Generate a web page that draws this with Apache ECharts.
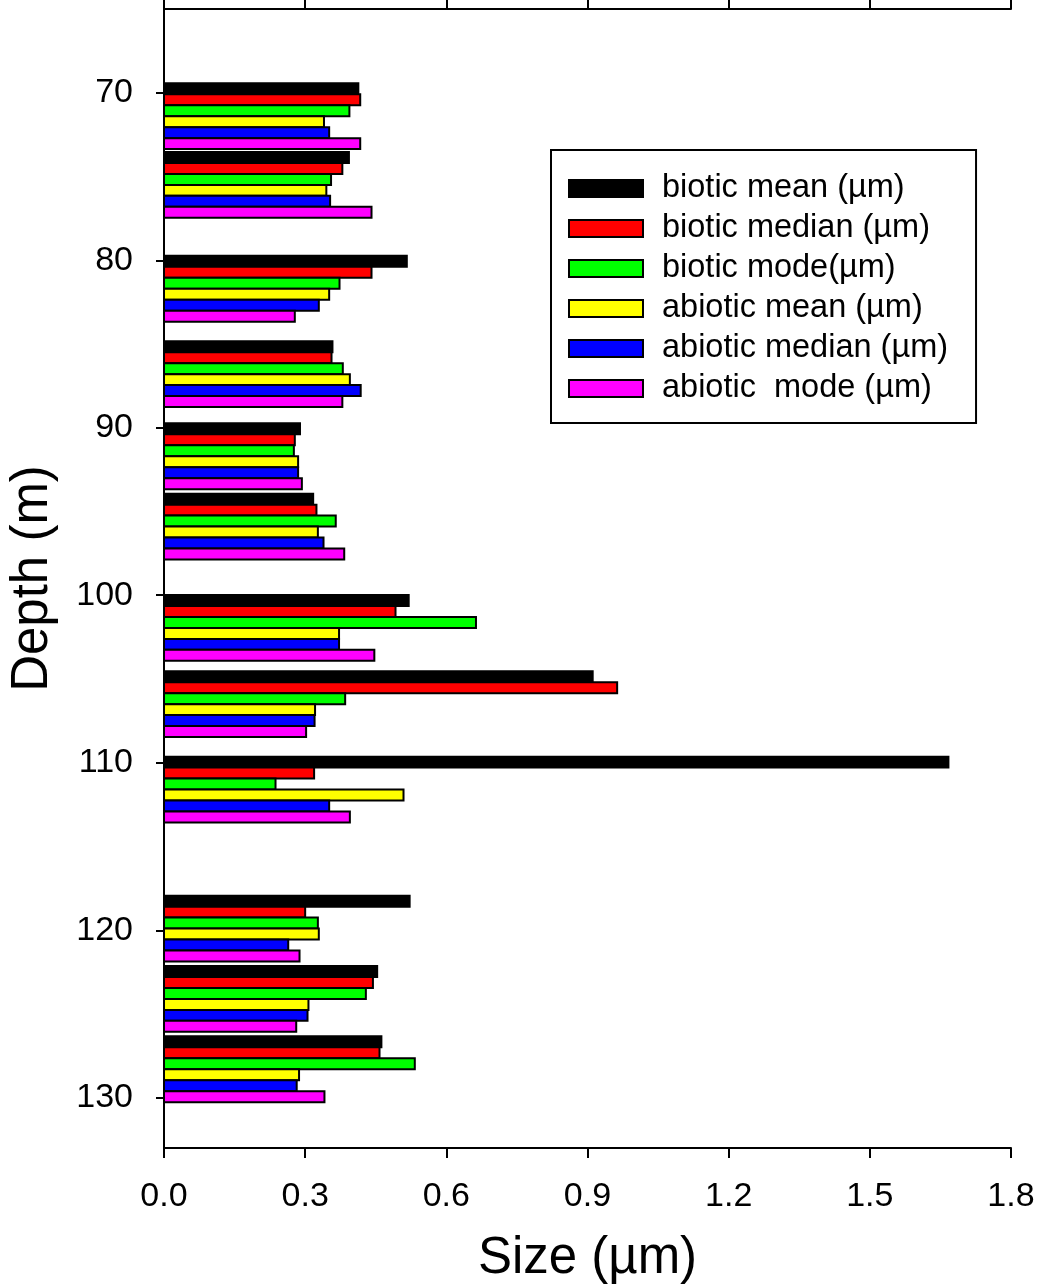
<!DOCTYPE html>
<html>
<head>
<meta charset="utf-8">
<script src="https://cdn.jsdelivr.net/npm/echarts@6/dist/echarts.min.js"></script>
<style>
  html, body { margin: 0; padding: 0; background: #fff; }
  #chart { width: 1038px; height: 1286px; }
</style>
</head>
<body>
<div id="chart"></div>
<script>
// Sample depths (m), centre of each group of six bars
const depths = [71.4, 75.5, 81.7, 86.8, 91.7, 95.9, 101.95, 106.5, 111.6, 119.9, 124.1, 128.3];

// Particle sizes (µm) per depth
const bioticMean    = [0.413, 0.393, 0.516, 0.358, 0.289, 0.317, 0.520, 0.911, 1.667, 0.522, 0.453, 0.462];
const bioticMedian  = [0.417, 0.379, 0.441, 0.356, 0.278, 0.324, 0.492, 0.963, 0.319, 0.300, 0.444, 0.458];
const bioticMode    = [0.394, 0.355, 0.373, 0.380, 0.276, 0.365, 0.663, 0.385, 0.237, 0.327, 0.429, 0.533];
const abioticMean   = [0.340, 0.345, 0.351, 0.395, 0.285, 0.327, 0.372, 0.321, 0.509, 0.329, 0.307, 0.287];
const abioticMedian = [0.351, 0.353, 0.329, 0.418, 0.285, 0.339, 0.372, 0.320, 0.351, 0.264, 0.305, 0.282];
const abioticMode   = [0.417, 0.441, 0.278, 0.379, 0.293, 0.383, 0.447, 0.302, 0.395, 0.288, 0.281, 0.341];

const seriesNames = [
  'biotic mean (µm)',
  'biotic median (µm)',
  'biotic mode(µm)',
  'abiotic mean (µm)',
  'abiotic median (µm)',
  'abiotic  mode (µm)'
];
const seriesValues = [bioticMean, bioticMedian, bioticMode, abioticMean, abioticMedian, abioticMode];
const seriesColors = ['#000000', '#ff0000', '#00ff00', '#ffff00', '#0000ff', '#ff00ff'];

const depthTicks = [70, 80, 90, 100, 110, 120, 130];

// Thickness of one bar along the depth axis (m)
const BAR = 0.655;
const FONT = "'Liberation Sans', Arial, Helvetica, sans-serif";

function makeSeries(k) {
  return {
    name: seriesNames[k],
    type: 'custom',
    xAxisIndex: 0,
    yAxisIndex: 0,
    z: 3,
    itemStyle: { color: seriesColors[k], borderColor: '#000', borderWidth: 2 },
    encode: { x: 0, y: 1 },
    data: depths.map((d, i) => [seriesValues[k][i], d]),
    renderItem: function (params, api) {
      const v = api.value(0);
      const d = api.value(1);
      const top = d - 3 * BAR + k * BAR;
      const p0 = api.coord([0, top]);
      const p1 = api.coord([v, top + BAR]);
      return {
        type: 'rect',
        shape: { x: p0[0], y: p0[1], width: p1[0] - p0[0], height: p1[1] - p0[1] },
        style: { fill: seriesColors[k], stroke: '#000', lineWidth: 2 }
      };
    }
  };
}

const axisLineStyle = { color: '#000', width: 2 };

const option = {
  backgroundColor: '#fff',
  animation: false,
  grid: { left: 164, right: 27, top: 9, bottom: 138, containLabel: false, outerBoundsMode: 'none' },
  legend: {
    orient: 'vertical',
    left: 551,
    top: 150,
    padding: [22, 28, 18, 17],
    itemGap: 7,
    itemWidth: 74,
    itemHeight: 17,
    icon: 'rect',
    borderColor: '#000',
    borderWidth: 2,
    backgroundColor: '#fff',
    selectedMode: false,
    textStyle: { fontFamily: FONT, fontSize: 32.5, color: '#000', lineHeight: 32, padding: [0, 0, 0, 14] },
    data: seriesNames.map((n, k) => ({
      name: n,
      itemStyle: { color: seriesColors[k], borderColor: '#000', borderWidth: 2 }
    }))
  },
  xAxis: [
    {
      type: 'value',
      position: 'bottom',
      min: 0,
      max: 1.8,
      interval: 0.3,
      name: 'Size (µm)',
      nameLocation: 'middle',
      nameGap: 85,
      nameTextStyle: { fontFamily: FONT, fontSize: 51, color: '#000' },
      axisLine: { show: true, lineStyle: axisLineStyle },
      axisTick: { show: true, inside: false, length: 10, lineStyle: axisLineStyle },
      axisLabel: {
        fontFamily: FONT, fontSize: 34, color: '#000', margin: 32,
        formatter: v => v.toFixed(1)
      },
      splitLine: { show: false }
    },
    {
      type: 'value',
      position: 'top',
      min: 0,
      max: 1.8,
      interval: 0.3,
      axisLine: { show: true, lineStyle: axisLineStyle },
      axisTick: { show: true, inside: false, length: 9, lineStyle: axisLineStyle },
      axisLabel: { show: false },
      splitLine: { show: false }
    }
  ],
  yAxis: [
    {
      type: 'value',
      position: 'left',
      inverse: true,
      min: 65,
      max: 133,
      name: 'Depth (m)',
      nameLocation: 'middle',
      nameGap: 106,
      nameTextStyle: { fontFamily: FONT, fontSize: 51, color: '#000' },
      axisLine: { show: true, lineStyle: axisLineStyle },
      axisTick: { show: true, inside: false, length: 8, lineStyle: axisLineStyle, customValues: depthTicks },
      axisLabel: { fontFamily: FONT, fontSize: 34, color: '#000', margin: 31, customValues: depthTicks },
      splitLine: { show: false }
    },
    {
      type: 'value',
      position: 'right',
      inverse: true,
      min: 65,
      max: 133,
      axisLine: { show: true, lineStyle: axisLineStyle },
      axisTick: { show: true, inside: false, length: 9, lineStyle: axisLineStyle, customValues: depthTicks },
      axisLabel: { show: false, customValues: depthTicks },
      splitLine: { show: false }
    }
  ],
  series: seriesNames.map((_, k) => makeSeries(k))
};

const chart = echarts.init(document.getElementById('chart'), null, { renderer: 'canvas' });
chart.setOption(option);
</script>
</body>
</html>
